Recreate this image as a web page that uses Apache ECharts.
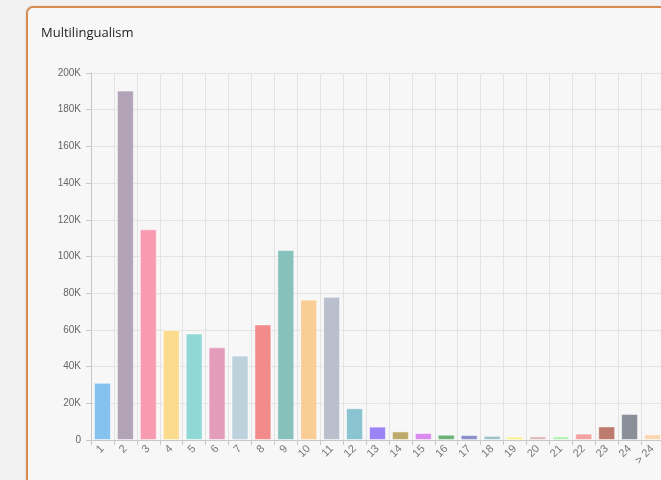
<!DOCTYPE html>
<html>
<head>
<meta charset="utf-8">
<script src="https://cdn.jsdelivr.net/npm/echarts@6/dist/echarts.min.js"></script>
<style>
    body { margin: 0; background: #f2f2f2; overflow: hidden; width: 661px; height: 480px; position: relative; }
    .card { position: absolute; left: 26px; top: 6px; width: 720px; height: 540px; border: 2px solid #d98c4f; border-radius: 7px; background: #f7f7f7; box-shadow: 0 0 2px rgba(0,0,0,0.15); }
    #main { position: absolute; left: 0; top: 0; width: 700px; height: 500px; }
</style>
</head>
<body>
<div class="card"></div>
<div id="main"></div>
<script>
// languages spoken (count) -> number of people
const categories = ['1', '2', '3', '4', '5', '6', '7', '8', '9', '10', '11', '12', '13',
    '14', '15', '16', '17', '18', '19', '20', '21', '22', '23', '24', '> 24']
const values = [31200, 190400, 114800, 60000, 58000, 50500, 46000, 63000, 103500, 76500, 78000,
    17300, 7300, 4700, 3800, 2900, 2700, 2300, 1800, 2000, 2000, 3500, 7400, 14200, 3100]
const colors = ['#85c2ef', '#b3a3b7', '#f89bb1', '#fbdc8f', '#90d8d6', '#e39cb9', '#bdd2dd',
    '#f48b8b', '#87c1bb', '#f9cd96', '#b9bfcc', '#8bc4d1', '#9b84f6', '#bdaa6b', '#d98bf0',
    '#6eb27b', '#8b8fca', '#9cc4c7', '#f6ef7b', '#d9b9b9', '#b1f0b1', '#f4a1a1', '#bd7b6d',
    '#8a8f9a', '#fbd6b1']
const yMax = 200000
const yStep = 20000

const chart = echarts.init(document.getElementById('main'))

chart.setOption({
    backgroundColor: 'transparent',
    animation: false,
    title: {
        text: 'Multilingualism',
        left: 36,
        top: 22,
        textStyle: { fontSize: 13, fontWeight: 'normal', color: '#1e1e1e', fontFamily: 'Open Sans' }
    },
    grid: { left: 91, top: 73, width: 573, height: 367 },
    xAxis: {
        type: 'category',
        data: categories,
        axisLine: { lineStyle: { color: '#c8c8c8' } },
        axisTick: { show: true, length: 5, lineStyle: { color: '#c8c8c8' } },
        axisLabel: { rotate: 45, fontSize: 11, color: '#777', margin: 7, interval: 0 },
        splitLine: { show: true, lineStyle: { color: '#e3e3e3' } }
    },
    yAxis: {
        type: 'value',
        min: 0,
        max: yMax,
        interval: yStep,
        axisLine: { show: true, lineStyle: { color: '#c8c8c8' } },
        axisTick: { show: true, length: 5, lineStyle: { color: '#c8c8c8' } },
        axisLabel: {
            fontSize: 10,
            color: '#666',
            margin: 10,
            formatter: v => v === 0 ? '0' : (v / 1000) + 'K'
        },
        splitLine: { lineStyle: { color: '#e3e3e3' } }
    },
    series: [{
        type: 'bar',
        barCategoryGap: '26%',
        data: values.map((v, i) => ({
            value: v,
            itemStyle: { color: colors[i], borderColor: 'rgba(255,255,255,0.5)', borderWidth: 1 }
        }))
    }]
})
</script>
</body>
</html>
